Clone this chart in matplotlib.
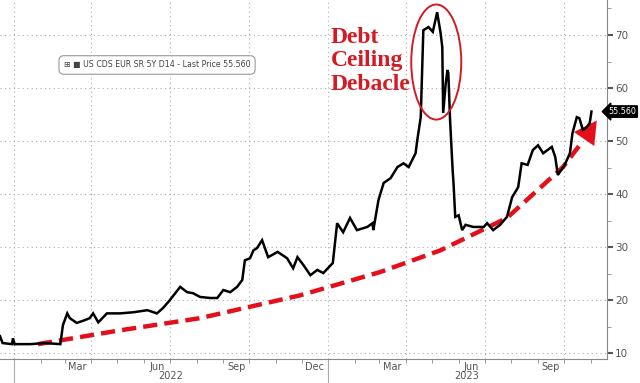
import matplotlib
matplotlib.use("Agg")
import matplotlib.pyplot as plt
import matplotlib.dates as mdates
from matplotlib.patches import Ellipse
import pandas as pd

# US CDS EUR SR 5Y D14
dates = ["2021-12-16", "2021-12-19", "2021-12-30", "2021-12-31", "2022-01-02", "2022-01-20",
         "2022-02-06", "2022-02-24", "2022-02-27", "2022-03-04", "2022-03-07", "2022-03-15",
         "2022-03-24", "2022-03-30", "2022-04-03", "2022-04-09", "2022-04-19", "2022-05-04",
         "2022-05-19", "2022-06-05", "2022-06-16", "2022-06-23", "2022-07-01", "2022-07-13",
         "2022-07-21", "2022-07-28", "2022-08-05", "2022-08-17", "2022-08-25", "2022-09-01",
         "2022-09-09", "2022-09-17", "2022-09-23", "2022-09-26", "2022-10-02", "2022-10-06",
         "2022-10-10", "2022-10-16", "2022-10-23", "2022-11-03", "2022-11-14", "2022-11-21",
         "2022-11-26", "2022-12-03", "2022-12-11", "2022-12-19", "2022-12-26", "2023-01-06",
         "2023-01-11", "2023-01-18", "2023-01-26", "2023-02-03", "2023-02-15", "2023-02-21",
         "2023-02-22", "2023-02-28", "2023-03-06", "2023-03-14", "2023-03-22", "2023-03-29",
         "2023-04-04", "2023-04-12", "2023-04-14", "2023-04-18", "2023-04-21", "2023-04-27",
         "2023-05-02", "2023-05-05", "2023-05-07", "2023-05-11", "2023-05-13", "2023-05-14",
         "2023-05-17", "2023-05-19", "2023-05-20", "2023-05-22", "2023-05-25", "2023-05-26",
         "2023-05-28", "2023-06-01", "2023-06-05", "2023-06-09", "2023-06-18", "2023-06-30",
         "2023-07-04", "2023-07-11", "2023-07-19", "2023-07-27", "2023-08-02", "2023-08-09",
         "2023-08-13", "2023-08-20", "2023-08-26", "2023-09-01", "2023-09-07", "2023-09-12",
         "2023-09-17", "2023-09-21", "2023-09-24", "2023-10-02", "2023-10-08", "2023-10-11",
         "2023-10-16", "2023-10-19", "2023-10-23", "2023-10-27", "2023-10-31", "2023-11-02"]
price = [13.2, 11.9, 11.7, 12.8, 11.7, 11.7,
         11.9, 11.7, 15.3, 17.5, 16.6, 15.7,
         16.2, 16.6, 17.5, 15.8, 17.5, 17.5,
         17.7, 18.1, 17.5, 18.5, 20.0, 22.5,
         21.5, 21.3, 20.6, 20.4, 20.4, 21.9,
         21.5, 22.5, 23.8, 27.5, 27.9, 29.4,
         29.8, 31.3, 28.1, 29.1, 27.9, 26.0,
         28.1, 26.6, 24.7, 25.7, 25.1, 27.0,
         34.5, 32.8, 35.5, 33.2, 33.8, 34.5,
         33.2, 38.9, 42.1, 43.0, 45.1, 45.8,
         45.1, 47.7, 50.2, 54.5, 70.9, 71.5,
         70.6, 72.8, 74.3, 70.4, 67.7, 55.3,
         60.9, 63.4, 62.8, 54.0, 44.5, 42.1,
         35.7, 36.0, 33.2, 34.2, 33.8, 33.8,
         34.5, 33.2, 34.2, 35.7, 39.4, 41.3,
         45.8, 45.5, 48.3, 49.2, 47.7, 48.3,
         48.9, 47.0, 43.6, 45.5, 47.7, 51.5,
         54.5, 54.3, 52.1, 52.5, 53.4, 55.56]

# red dashed trend arrow
trend_dates = ["2022-01-29", "2022-05-04", "2022-08-05", "2022-11-29", "2023-03-02",
               "2023-05-11", "2023-07-27", "2023-09-30", "2023-10-22"]
trend_vals = [11.7, 14.3, 16.6, 20.9, 25.3, 29.4, 35.5, 45.1, 49.8]
tip_date, tip_val = "2023-11-10", 54.3

last_price = 55.560
yticks = [10, 20, 30, 40, 50, 60, 70]
month_ticks = ["2022-03-16", "2022-06-16", "2022-09-16", "2022-12-16",
               "2023-03-16", "2023-06-16", "2023-09-16"]

d = pd.to_datetime(dates)
td = pd.to_datetime(trend_dates)

fig = plt.figure(figsize=(6.4, 3.83), dpi=100)
ax = fig.add_axes([0.0, 0.0627, 0.9484, 0.9373])

grey = "#555555"
red = "#e3101c"
ymin, ymax = 8.9, 76.6

ax.plot(d, price, color="black", lw=1.8, zorder=4, solid_joinstyle="miter")
ax.plot(td, trend_vals, color=red, lw=3.2, dashes=(3.2, 1.6), zorder=3)
ax.annotate("", xy=(pd.Timestamp(tip_date), tip_val),
            xytext=(td[-1], trend_vals[-1]),
            arrowprops=dict(arrowstyle="-|>,head_length=1.0,head_width=0.55",
                            color=red, lw=0.1, mutation_scale=16), zorder=3)

ell = Ellipse((mdates.date2num(pd.Timestamp("2023-05-06")), 64.9),
              width=58, height=21.7, fill=False, edgecolor="#d41a22", lw=1.4, zorder=5)
ax.add_patch(ell)
ax.text(mdates.date2num(pd.Timestamp("2023-01-04")), 71.6, "Debt\nCeiling\nDebacle",
        color="#d41a22", fontsize=17, fontweight="bold", family="Liberation Serif",
        va="top", ha="left", linespacing=1.18)

ax.set_xlim(pd.Timestamp("2021-12-16"), pd.Timestamp("2023-11-20"))
ax.set_ylim(ymin, ymax)

ax.yaxis.tick_right()
ax.set_yticks(yticks)
ax.set_yticks(range(15, 76, 10), minor=True)
ax.tick_params(axis="y", which="major", direction="out", length=4, width=1.5,
               colors=grey, labelsize=7.5, pad=2)
ax.tick_params(axis="y", which="minor", direction="out", length=3, width=0.7, colors="#999999")

ax.set_xticks(pd.to_datetime(month_ticks))
ax.xaxis.set_major_formatter(mdates.DateFormatter("%b"))
ax.xaxis.set_minor_locator(mdates.MonthLocator())
ax.tick_params(axis="x", which="major", length=0, colors=grey, labelsize=7, pad=2)
ax.tick_params(axis="x", which="minor", length=3, width=0.7, color="#999999")

# quarterly vertical grid and horizontal grid
for q in pd.date_range("2022-01-01", "2023-10-01", freq="QS"):
    ax.axvline(q, color="#aaaaaa", lw=0.8, ls=(0, (1, 3)), zorder=1)
for yv in yticks:
    ax.axhline(yv, color="#aaaaaa", lw=0.8, ls=(0, (1, 3)), zorder=1)

for s in ["top", "left"]:
    ax.spines[s].set_visible(False)
ax.spines["right"].set_color("#888888")
ax.spines["bottom"].set_color("#888888")

# year labels and separators
for yr, mid in [("2022", "2022-07-02"), ("2023", "2023-06-10")]:
    ax.text(pd.Timestamp(mid), -0.047, yr, transform=ax.get_xaxis_transform(),
            ha="center", va="center", fontsize=7, color=grey)
for sep in ["2022-01-01", "2023-01-01"]:
    ax.plot([pd.Timestamp(sep)] * 2, [0, -0.07], transform=ax.get_xaxis_transform(),
            color="#aaaaaa", lw=0.8, clip_on=False)

# last price tag
tag_y = 0.0627 + 0.9373 * (last_price - ymin) / (ymax - ymin)
fig.text(0.994, tag_y, f"{last_price:.3f}", color="white", fontsize=5.8,
         va="center", ha="right",
         bbox=dict(boxstyle="larrow,pad=0.15", fc="black", ec="black"))

# legend box
ax.text(0.105, 0.819, "\u229e \u25a0 US CDS EUR SR 5Y D14 - Last Price 55.560",
        transform=ax.transAxes, fontsize=5.7, color="#444444", va="center", ha="left",
        bbox=dict(boxstyle="round,pad=0.6", fc="white", ec="#999999", lw=0.8), zorder=6)

fig.savefig("out.png", dpi=100)
